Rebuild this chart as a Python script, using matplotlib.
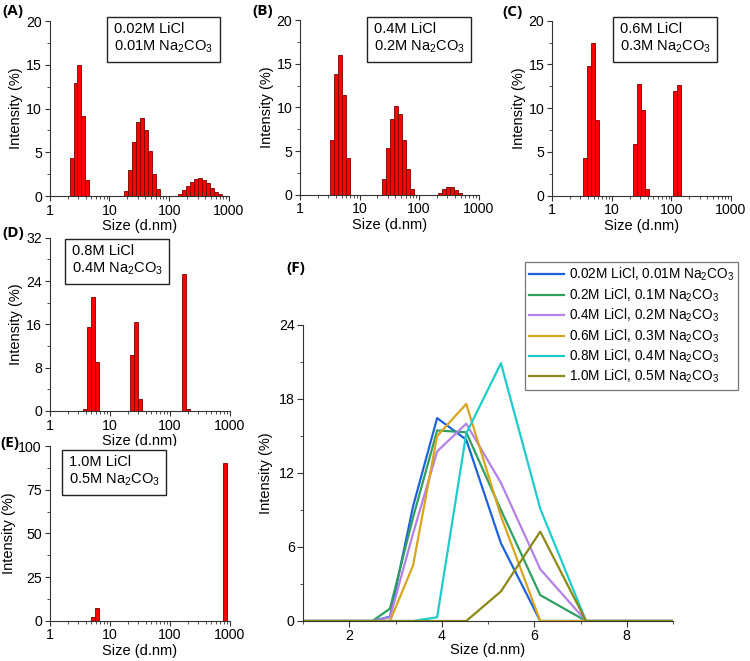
import matplotlib
matplotlib.use("Agg")
import matplotlib.pyplot as plt
from matplotlib.ticker import FixedLocator, FixedFormatter, MultipleLocator, LogLocator, NullFormatter

plt.rcParams['font.family'] = ['Liberation Sans', 'DejaVu Sans']
plt.rcParams['mathtext.default'] = 'regular'

# ---------------- data ----------------
A_size = [2.34, 2.72, 3.16, 3.68, 4.28,
          18.8, 21.9, 25.5, 29.8, 34.8, 40.6, 47.3, 55.2, 64.4,
          149, 174, 203, 237, 277, 323, 377, 440, 514, 600, 700]
A_int = [4.4, 12.9, 15.0, 9.1, 1.8,
         0.57, 3.0, 6.2, 8.5, 8.95, 7.6, 5.1, 2.55, 0.76,
         0.2, 0.65, 1.2, 1.65, 1.95, 2.05, 1.85, 1.45, 0.9, 0.5, 0.2]

B_size = [3.45, 4.03, 4.70, 5.49, 6.41,
          25.5, 29.8, 34.8, 40.6, 47.4, 55.3, 64.6, 75.4,
          223, 260, 304, 355, 414, 483]
B_int = [6.26, 13.8, 16.0, 11.4, 4.16,
         1.8, 5.4, 8.7, 10.2, 9.2, 6.26, 2.94, 0.65,
         0.25, 0.65, 0.88, 0.85, 0.55, 0.15]

C_size = [3.61, 4.22, 4.92, 5.74, 24.9, 29.0, 33.8, 39.5, 116, 135.5]
C_int = [4.34, 14.8, 17.5, 8.6, 5.9, 12.8, 9.8, 0.76, 12.0, 12.7]

D_size = [3.86, 4.50, 5.25, 6.12, 23.7, 27.7, 32.2, 176.5, 205]
D_int = [0.3, 15.45, 21.1, 9.1, 10.3, 16.4, 2.2, 25.3, 0.3]

E_size = [5.27, 6.14, 832]
E_int = [2.3, 7.1, 90.4]

F_size = [1.0, 2.5, 2.88, 3.38, 3.9, 4.53, 5.28, 6.13, 7.12, 9.0]
F_002 = [0, 0, 0.35, 9.3, 16.45, 14.7, 6.3, 0, 0, 0]
F_02 = [0, 0, 1.0, 8.4, 15.45, 15.3, 9.0, 2.1, 0, 0]
F_04 = [0, 0, 0.3, 7.1, 13.75, 16.0, 11.2, 4.2, 0, 0]
F_06 = [0, 0, 0, 4.5, 15.0, 17.6, 8.5, 0, 0, 0]
F_08 = [0, 0, 0, 0, 0.3, 15.2, 20.9, 9.1, 0, 0]
F_10 = [0, 0, 0, 0, 0, 0, 2.4, 7.25, 0, 0]

F_labels = ["0.02M LiCl, 0.01M Na$_2$CO$_3$",
            "0.2M LiCl, 0.1M Na$_2$CO$_3$",
            "0.4M LiCl, 0.2M Na$_2$CO$_3$",
            "0.6M LiCl, 0.3M Na$_2$CO$_3$",
            "0.8M LiCl, 0.4M Na$_2$CO$_3$",
            "1.0M LiCl, 0.5M Na$_2$CO$_3$"]
F_colors = ["#1f63d8", "#2fa062", "#b482e6", "#d9a41e", "#1ecccc", "#8b8a14"]

box_texts = ["0.02M LiCl\n0.01M Na$_2$CO$_3$",
             "0.4M LiCl\n0.2M Na$_2$CO$_3$",
             "0.6M LiCl\n0.3M Na$_2$CO$_3$",
             "0.8M LiCl\n0.4M Na$_2$CO$_3$",
             "1.0M LiCl\n0.5M Na$_2$CO$_3$"]
log_ticks = [1, 10, 100, 1000]
log_tick_labels = ["1", "10", "100", "1000"]

# ---------------- figure ----------------
W, H = 750, 661
fig = plt.figure(figsize=(W / 100, H / 100), dpi=100)


def rect(x0, x1, ytop, ybot):
    return [x0 / W, 1 - ybot / H, (x1 - x0) / W, (ybot - ytop) / H]


FS = 10.5
TFS = 10.2
BW = 0.0667  # bar width in decades


def hist_panel(r, sizes, ints, ymax, ystep, box_xy, text, letter, letter_xy, xlabel=True):
    ax = fig.add_axes(r)
    lefts = [s * 10 ** (-BW / 2) for s in sizes]
    widths = [s * 10 ** (BW / 2) - s * 10 ** (-BW / 2) for s in sizes]
    ax.bar(lefts, ints, width=widths, align='edge', color='#ff0000',
           edgecolor='#7a0000', linewidth=0.6, zorder=2)
    ax.set_xscale('log')
    ax.set_xlim(1, 1000)
    ax.set_ylim(0, ymax)
    ax.xaxis.set_major_locator(FixedLocator(log_ticks))
    ax.xaxis.set_major_formatter(FixedFormatter(log_tick_labels))
    ax.xaxis.set_minor_locator(LogLocator(base=10, subs=range(2, 10)))
    ax.xaxis.set_minor_formatter(NullFormatter())
    ax.yaxis.set_major_locator(MultipleLocator(ystep))
    ax.yaxis.set_minor_locator(MultipleLocator(ystep / 2))
    for s in ['top', 'right']:
        ax.spines[s].set_visible(False)
    for s in ['left', 'bottom']:
        ax.spines[s].set_linewidth(0.8)
        ax.spines[s].set_color('#333333')
    ax.tick_params(which='major', direction='out', length=3.5, width=0.8,
                   labelsize=TFS, pad=2, colors='#333333', labelcolor='black')
    ax.tick_params(which='minor', direction='out', length=2, width=0.6, colors='#333333')
    ax.set_ylabel("Intensity (%)", fontsize=FS, labelpad=2)
    if xlabel:
        ax.set_xlabel("Size (d.nm)", fontsize=FS, labelpad=1)
    fig.text(box_xy[0] / W, 1 - box_xy[1] / H, text, fontsize=FS, ha='left', va='top',
             linespacing=1.25,
             bbox=dict(boxstyle='square,pad=0.45', facecolor='white', edgecolor='#222222', linewidth=1.0))
    fig.text(letter_xy[0] / W, 1 - letter_xy[1] / H, letter, fontsize=11, fontweight='bold',
             family=['Open Sans', 'DejaVu Sans'], ha='left', va='center')
    return ax


hist_panel(rect(49.5, 229, 21, 196), A_size, A_int, 20, 5, (114, 22), box_texts[0], "(A)", (2, 11))
hist_panel(rect(300, 478.5, 20, 194.7), B_size, B_int, 20, 5, (374, 22), box_texts[1], "(B)", (252, 11))
hist_panel(rect(552, 731, 20.7, 195.7), C_size, C_int, 20, 5, (620, 22), box_texts[2], "(C)", (502, 12))
hist_panel(rect(49.5, 229.5, 237.7, 411), D_size, D_int, 32, 8, (72, 244), box_texts[3], "(D)", (2, 233))
hist_panel(rect(49.5, 229.5, 446, 620.7), E_size, E_int, 100, 25, (69, 455), box_texts[4], "(E)", (0, 443))

# ---------------- panel F ----------------
axF = fig.add_axes(rect(303, 673, 325, 621))
for ys, lab, col in zip([F_002, F_02, F_04, F_06, F_08, F_10], F_labels, F_colors):
    axF.plot(F_size, ys, color=col, lw=1.6, label=lab)
axF.set_xlim(1, 9)
axF.set_ylim(0, 24)
axF.xaxis.set_major_locator(MultipleLocator(2))
axF.xaxis.set_minor_locator(MultipleLocator(1))
axF.yaxis.set_major_locator(MultipleLocator(6))
axF.yaxis.set_minor_locator(MultipleLocator(3))
for s in ['top', 'right']:
    axF.spines[s].set_visible(False)
for s in ['left', 'bottom']:
    axF.spines[s].set_linewidth(0.8)
    axF.spines[s].set_color('#333333')
axF.tick_params(which='major', direction='out', length=4, width=0.8, labelsize=TFS, pad=2,
                colors='#333333', labelcolor='black')
axF.tick_params(which='minor', direction='out', length=2.5, width=0.6, colors='#333333')
axF.set_ylabel("Intensity (%)", fontsize=FS, labelpad=4)
axF.set_xlabel("Size (d.nm)", fontsize=FS, labelpad=0)
leg = axF.legend(loc='upper right', bbox_to_anchor=(738 / W, 1 - 262 / H),
                 bbox_transform=fig.transFigure, fontsize=9.8, frameon=True, fancybox=False,
                 edgecolor='#777777', framealpha=1, handlelength=2.6, handletextpad=0.35,
                 labelspacing=0.22, borderpad=0.3, borderaxespad=0)
leg.get_frame().set_linewidth(0.9)
fig.text(286 / W, 1 - 268 / H, "(F)", fontsize=11, fontweight='bold',
         family=['Open Sans', 'DejaVu Sans'], ha='left', va='center')

fig.savefig("out.png", dpi=100)
